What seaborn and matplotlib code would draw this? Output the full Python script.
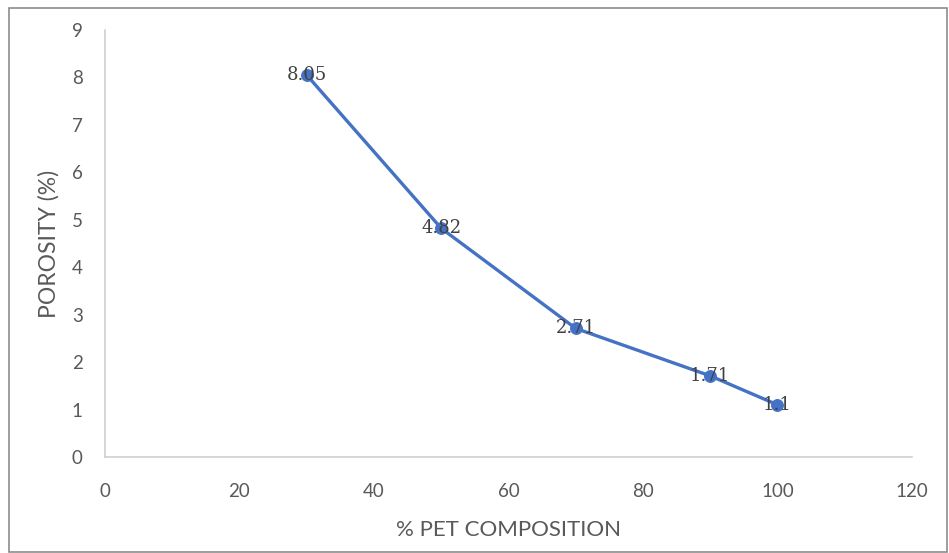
#!/usr/bin/env python3
"""
Porosity against PET composition.
"""

import numpy as np
import pandas as pd
import seaborn as sns
import matplotlib.pyplot as plt
from matplotlib.patches import Rectangle

pet_composition = [30, 50, 70, 90, 100]
porosity = [8.05, 4.82, 2.71, 1.71, 1.1]
point_labels = ["8.05", "4.82", "2.71", "1.71", "1.1"]

sns.set_style("white")
plt.rcParams["font.family"] = ["Lato", "DejaVu Sans"]

blue = "#4472C4"
text_grey = "#595959"
spine_grey = "#D0D0D0"

df = pd.DataFrame({"pet": pet_composition, "porosity": porosity})

fig = plt.figure(figsize=(9.49, 5.53), dpi=100)
ax = fig.add_axes([0.1106, 0.1736, 0.8504, 0.7722])

sns.lineplot(data=df, x="pet", y="porosity", ax=ax, color=blue, lw=2.4,
             marker="o", markersize=8.5, markeredgecolor=blue)

for x, y, label in zip(pet_composition, porosity, point_labels):
    ax.text(x, y, label, ha="center", va="center", fontsize=13,
            family=["DejaVu Serif"], color="#404040")

ax.set_xlim(0, 120)
ax.set_ylim(0, 9)
ax.set_xticks(np.arange(0, 121, 20))
ax.set_yticks(np.arange(0, 10, 1))
ax.tick_params(axis="both", length=0, labelsize=13.5, labelcolor=text_grey)
ax.tick_params(axis="x", pad=19)
ax.tick_params(axis="y", pad=16)

for side in ["top", "right"]:
    ax.spines[side].set_visible(False)
for side in ["left", "bottom"]:
    ax.spines[side].set_color(spine_grey)
    ax.spines[side].set_linewidth(1.2)

ax.set_xlabel("% PET COMPOSITION", fontsize=16, color=text_grey, labelpad=14)
ax.set_ylabel("POROSITY (%)", fontsize=16.5, color=text_grey, labelpad=9)

fig.patches.append(Rectangle((9 / 949, 1 / 553), 938 / 949, 544 / 553,
                             transform=fig.transFigure, fill=False,
                             edgecolor="#8C8C8C", lw=1.2))

fig.savefig("out.png", dpi=100)
